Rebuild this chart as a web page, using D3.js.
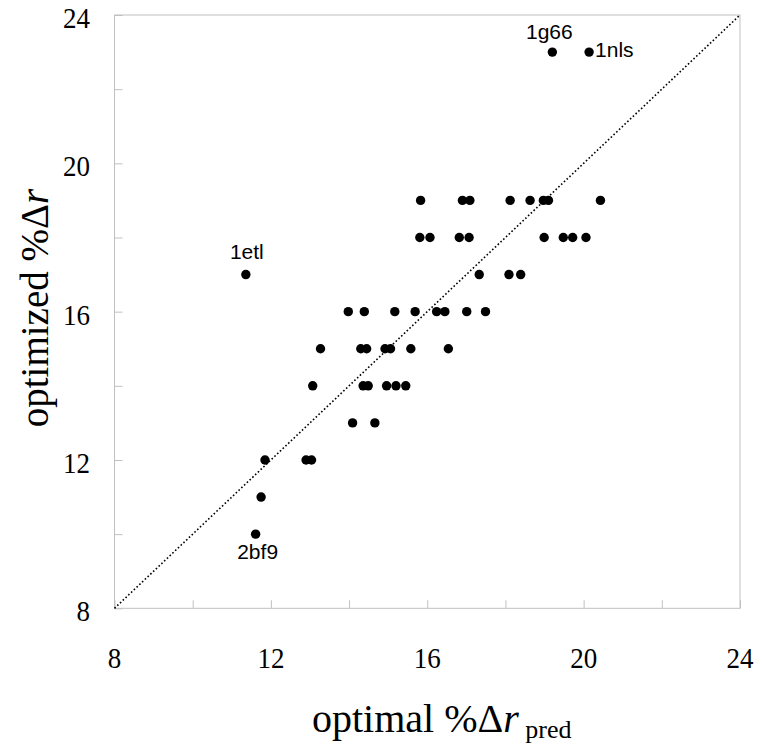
<!DOCTYPE html>
<html><head><meta charset="utf-8">
<script src="https://cdn.jsdelivr.net/npm/d3@7"></script>
<style>body{margin:0;background:#fff}</style>
</head><body>
<svg id="c" width="762" height="751"></svg>
<script>
// Data
const optimalPred = [19.20,20.14,
 15.83,16.90,17.09,18.12,18.63,18.97,19.10,20.43,
 15.81,16.07,16.82,17.07,18.99,19.48,19.72,20.06,
 11.36,17.33,18.09,18.39,
 13.98,14.39,15.17,15.69,16.24,16.45,17.01,17.49,
 13.27,14.30,14.45,14.92,15.06,15.58,16.54,
 13.07,14.36,14.49,14.96,15.20,15.45,
 14.09,14.66,
 11.85,12.90,13.04,
 11.75,11.61];
const optimized = [23,23,
 19,19,19,19,19,19,19,19,
 18,18,18,18,18,18,18,18,
 17,17,17,17,
 16,16,16,16,16,16,16,16,
 15,15,15,15,15,15,15,
 14,14,14,14,14,14,
 13,13,
 12,12,12,
 11,10];
const labelNames = ["1g66","1nls","1etl","2bf9"];
const labelIdx = [0,1,18,49];
const ticksMajor = [8,12,16,20,24];
const ticksMinor = [8,10,12,14,16,18,20,22,24];

const svg = d3.select("#c");
const L=114.5,R=740,T=15,B=608.3;
const x = d3.scaleLinear().domain([8,24]).range([L,R]);
const y = d3.scaleLinear().domain([8,24]).range([B,T]);
const grey="#c0c0c0";

svg.append("rect").attr("x",L).attr("y",T).attr("width",R-L).attr("height",B-T)
 .attr("fill","none").attr("stroke",grey).attr("stroke-width",1);

// inside ticks
const xa = d3.axisTop(x).tickValues(ticksMinor).tickSize(8).tickFormat("");
const gx = svg.append("g").attr("transform",`translate(0,${B})`).call(xa);
const ya = d3.axisRight(y).tickValues(ticksMinor).tickSize(8).tickFormat("");
const gy = svg.append("g").attr("transform",`translate(${L},0)`).call(ya);
[gx,gy].forEach(g=>{g.select(".domain").remove();g.selectAll("line").attr("stroke",grey);});

// tick labels
const serif="'Liberation Serif','Times New Roman',serif";
svg.append("g").selectAll("text").data(ticksMajor).join("text")
 .attr("transform",d=>`translate(${x(d)},${B+60}) scale(0.9,1)`).attr("text-anchor","middle")
 .attr("font-family",serif).attr("font-size",30).text(d=>d);
svg.append("g").selectAll("text").data(ticksMajor).join("text")
 .attr("transform",d=>`translate(${L-24.5},${y(d)+13}) scale(0.9,1)`).attr("text-anchor","end")
 .attr("font-family",serif).attr("font-size",30).text(d=>d);

// diagonal
svg.append("line").attr("x1",x(8)).attr("y1",y(8)).attr("x2",x(24)).attr("y2",y(24))
 .attr("stroke","#000").attr("stroke-width",1.6).attr("stroke-dasharray","1.6,2.2");

// points
const pts = optimalPred.map((v,i)=>({x:v,y:optimized[i]}));
svg.append("g").selectAll("circle").data(pts).join("circle")
 .attr("cx",d=>x(d.x)).attr("cy",d=>y(d.y)).attr("r",4.7).attr("fill","#000");

// point labels
const sans="'Liberation Sans',Arial,sans-serif";
const lblPos=[{dx:-3,dy:-13,a:"middle"},{dx:6,dy:4.8,a:"start"},{dx:1,dy:-15.4,a:"middle"},{dx:2,dy:25,a:"middle"}];
labelNames.forEach((n,k)=>{
 const p=pts[labelIdx[k]];
 svg.append("text").attr("x",x(p.x)+lblPos[k].dx).attr("y",y(p.y)+lblPos[k].dy)
  .attr("text-anchor",lblPos[k].a).attr("font-family",sans).attr("font-size",21).text(n);
});

// axis titles
const xt = svg.append("text").attr("x",312).attr("y",732).attr("text-anchor","start")
 .attr("font-family",serif).attr("font-size",40);
xt.append("tspan").text("optimal %Δ");
xt.append("tspan").attr("font-style","italic").text("r");
xt.append("tspan").attr("font-size",26).attr("dy",6).text(" pred");

const yt = svg.append("text").attr("transform",`translate(48,308) rotate(-90)`)
 .attr("text-anchor","middle").attr("font-family",serif).attr("font-size",39);
yt.append("tspan").text("optimized %Δ");
yt.append("tspan").attr("font-style","italic").text("r");
</script>
</body></html>
